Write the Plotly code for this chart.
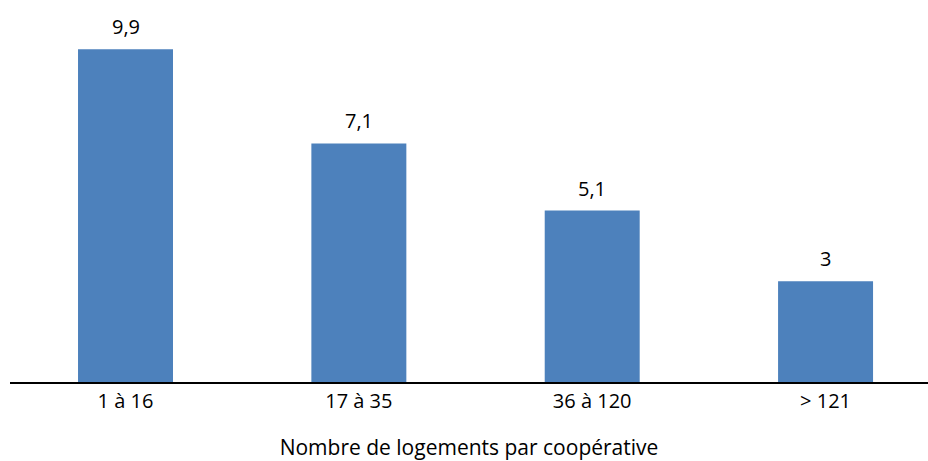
import plotly.graph_objects as go

categories = ["1 à 16", "17 à 35", "36 à 120", "> 121"]
values = [9.9, 7.1, 5.1, 3]
value_labels = [f"{v:g}".replace(".", ",") for v in values]

fig = go.Figure()
fig.add_trace(go.Bar(
    x=categories,
    y=values,
    marker=dict(color="#4d81bc", line=dict(width=0)),
    width=0.407,
))

# value labels above the bars
for cat, val, lab in zip(categories, values, value_labels):
    fig.add_annotation(
        x=cat, y=val, text=lab,
        showarrow=False, yanchor="bottom", yshift=7,
        font=dict(size=20, color="black"),
    )

fig.update_layout(
    width=928,
    height=461,
    margin=dict(l=10, r=0, t=10, b=79),
    plot_bgcolor="white",
    paper_bgcolor="white",
    font=dict(family="Open Sans, sans-serif", size=20, color="black"),
    showlegend=False,
    xaxis=dict(
        range=[-0.495, 3.439],
        showline=True,
        linecolor="black",
        linewidth=2,
        ticks="",
        showgrid=False,
        tickfont=dict(size=20),
        title=dict(text="Nombre de logements par coopérative", font=dict(size=21), standoff=29),
    ),
    yaxis=dict(
        range=[0, 11.07],
        visible=False,
        showgrid=False,
    ),
)

# drop the default 8px page margin so the figure fills the window exactly
fig.write_html(
    "out.html",
    config={"displayModeBar": False},
    post_script="document.body.style.margin='0';",
)
